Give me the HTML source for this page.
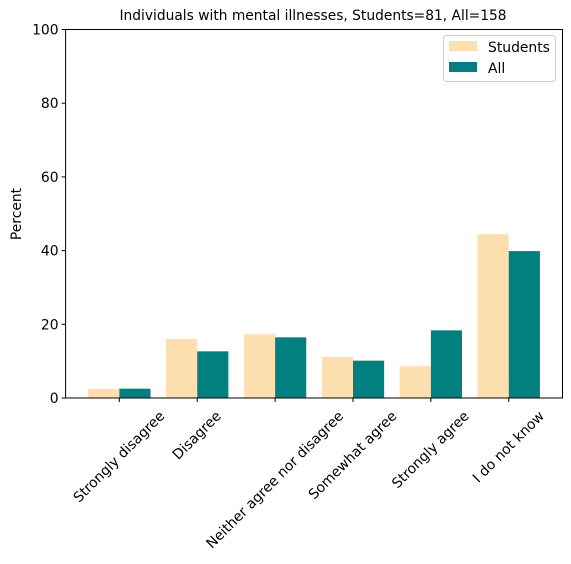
<!DOCTYPE html>
<html><head><meta charset="utf-8"><style>
body{margin:0;background:#fff;font-family:"DejaVu Sans","Liberation Sans",sans-serif;}
svg text{font-family:"DejaVu Sans","Liberation Sans",sans-serif;font-size:13.9px;fill:#000;}
</style></head><body>
<svg id="chart" width="571" height="560">
<text x="313" y="20" text-anchor="middle" style="font-size:13.8px">Individuals with mental illnesses, Students=81, All=158</text>
<text transform="translate(21,214) rotate(-90)" text-anchor="middle">Percent</text>
<g id="bars"></g><g id="axes"></g>
<g>
<rect x="443.5" y="35.5" width="112" height="46" fill="#fff" fill-opacity="0.8" stroke="#ccc" rx="3"/>
<rect x="449" y="41" width="28" height="10" fill="#fddeae"/>
<text x="488" y="52">Students</text>
<rect x="449" y="62" width="28" height="10" fill="#008080"/>
<text x="488" y="73">All</text>
</g>
</svg>
<script>
const categories=["Strongly disagree","Disagree","Neither agree nor disagree","Somewhat agree","Strongly agree","I do not know"];
const students=[2.47,16.05,17.28,11.11,8.64,44.44];
const all=[2.53,12.66,16.46,10.13,18.35,39.87];
const yTicks=[0,20,40,60,80,100];
const NS="http://www.w3.org/2000/svg";
const L=65.6,R=562.5,T=29.5,B=398;
const x=i=>L+(i+0.69)*(R-L)/6.38;
const y=v=>B-v*(B-T)/100;
const bw=0.4*(R-L)/6.38;
const bars=document.getElementById('bars'),axes=document.getElementById('axes');
function mk(tag,attrs,parent){const e=document.createElementNS(NS,tag);for(const k in attrs)e.setAttribute(k,attrs[k]);parent.appendChild(e);return e;}
categories.forEach((c,i)=>{
 let r=mk('rect',{x:x(i)-bw,y:y(students[i]),width:bw,height:B-y(students[i]),fill:'#fddeae'},bars);
 
 
 let r2=mk('rect',{x:x(i),y:y(all[i]),width:bw,height:B-y(all[i]),fill:'#008080'},bars);
 
 
 mk('line',{x1:x(i),x2:x(i),y1:B,y2:B+4,stroke:'#000'},axes);
 let t=mk('text',{'text-anchor':'end','dominant-baseline':'central'},axes);
 t.textContent=c;
 
 
 const len=t.getComputedTextLength();
 t.setAttribute('transform',`translate(${x(i)+0.354*len},${B+11+0.354*14}) rotate(-45)`);
});
yTicks.forEach(v=>{
 mk('line',{x1:L-4,x2:L,y1:y(v),y2:y(v),stroke:'#000'},axes);
 let t=mk('text',{x:L-7,y:y(v)+5,'text-anchor':'end'},axes);
 t.textContent=v;
 
 
});
let f=mk('rect',{x:L,y:T,width:R-L,height:B-T,fill:'none',stroke:'#000','stroke-width':1},axes);


</script>
</body></html>
